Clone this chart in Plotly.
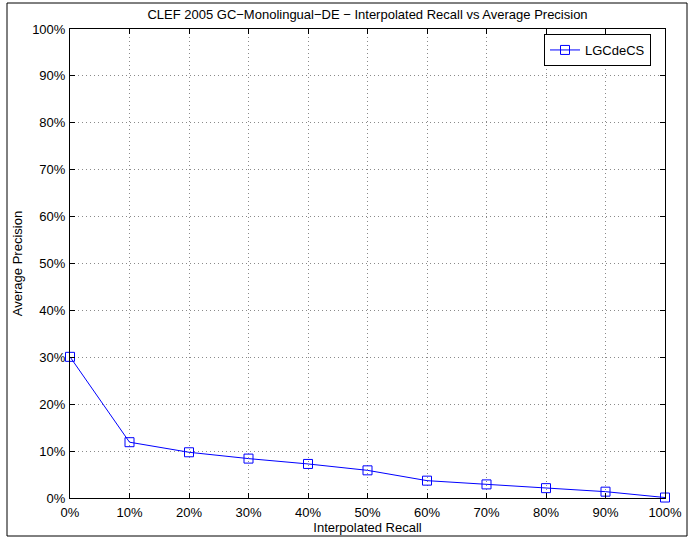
import plotly.graph_objects as go

recall = [0, 10, 20, 30, 40, 50, 60, 70, 80, 90, 100]
precision = [30.1, 11.9, 9.75, 8.4, 7.26, 5.9, 3.7, 2.9, 2.1, 1.35, 0.1]
tick_vals = [0, 10, 20, 30, 40, 50, 60, 70, 80, 90, 100]
tick_text = [f"{v}%" for v in tick_vals]

FONT = "Liberation Sans, Arial, Helvetica"

fig = go.Figure()
fig.add_trace(go.Scatter(
    x=recall, y=precision, mode="lines+markers", name="LGCdeCS",
    line=dict(color="#0000ff", width=1),
    marker=dict(symbol="square-open", size=9, color="#0000ff", line=dict(width=1)),
    cliponaxis=False,
))

axis_common = dict(
    showline=True, linecolor="black", linewidth=1, mirror="ticks",
    ticks="inside", ticklen=5, tickcolor="black", automargin=False,
    showgrid=True, gridcolor="#8a8a8a", griddash="1px,3px", gridwidth=1,
    zeroline=False, tickfont=dict(family=FONT, size=13, color="black"),
    tickvals=tick_vals, ticktext=tick_text,
)

fig.update_layout(
    width=696, height=538,
    paper_bgcolor="white", plot_bgcolor="white",
    margin=dict(l=70, r=31, t=29, b=40),
    title=dict(text="CLEF 2005 GC\u2212Monolingual\u2212DE \u2212 Interpolated Recall vs Average Precision",
               x=(70 + 297.5) / 696, xanchor="center", y=1 - 14 / 538, yanchor="middle",
               font=dict(family=FONT, size=13, color="black")),
    xaxis=dict(range=[0, 100], ticklabelstandoff=2,
               title=dict(text="Interpolated Recall", standoff=1,
                          font=dict(family=FONT, size=13, color="black")), **axis_common),
    yaxis=dict(range=[0, 100], ticklabelstandoff=1,
               title=dict(text="Average Precision", standoff=6,
                          font=dict(family=FONT, size=13, color="black")), **axis_common),
    showlegend=True,
    legend=dict(x=1 - 14 / 595, y=1 - 5 / 469, xanchor="right", yanchor="top",
                bordercolor="black", borderwidth=1, bgcolor="white",
                font=dict(family=FONT, size=13, color="black")),
    shapes=[dict(type="rect", xref="paper", yref="paper", x0=-63/595, x1=1 + 22/595,
                 y0=-38/469, y1=1 + 26/469, line=dict(color="black", width=1))],
)

fig.write_html("out.html", config={"displayModeBar": False},
               post_script="document.body.style.margin='0px';")
